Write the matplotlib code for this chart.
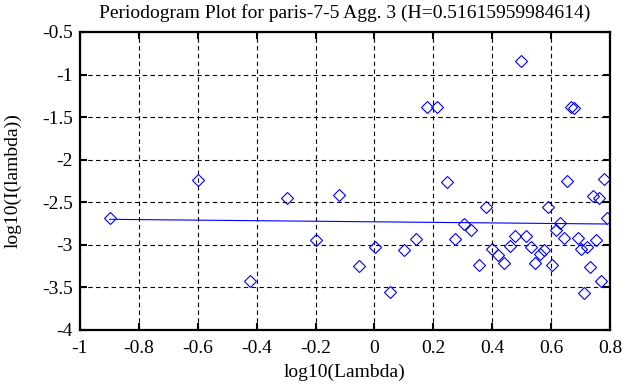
import matplotlib
matplotlib.use("Agg")
import matplotlib.pyplot as plt

plt.rcParams['font.family'] = ['Liberation Serif', 'DejaVu Serif']

title = "Periodogram Plot for paris-7-5 Agg. 3 (H=0.51615959984614)"
xlabel = "log10(Lambda)"
ylabel = "log10(I(lambda))"

log_lambda = [-0.899, -0.598, -0.422, -0.297, -0.200, -0.121, -0.054, 0.002,
              0.053, 0.099, 0.140, 0.178, 0.213, 0.245, 0.275, 0.303,
              0.329, 0.354, 0.378, 0.400, 0.421, 0.441, 0.461, 0.479,
              0.497, 0.514, 0.530, 0.546, 0.561, 0.576, 0.590, 0.604,
              0.617, 0.630, 0.643, 0.655, 0.667, 0.679, 0.690, 0.701,
              0.712, 0.722, 0.732, 0.742, 0.752, 0.762, 0.771, 0.780, 0.789]
log_I = [-2.69, -2.24, -3.42, -2.45, -2.94, -2.42, -3.25, -3.02,
         -3.55, -3.06, -2.93, -1.38, -1.38, -2.26, -2.93, -2.75,
         -2.82, -3.24, -2.555, -3.05, -3.12, -3.21, -3.015, -2.90,
         -0.84, -2.90, -3.02, -3.21, -3.11, -3.06, -2.555, -3.24,
         -2.82, -2.74, -2.92, -2.25, -1.38, -1.39, -2.925, -3.05,
         -3.56, -3.02, -3.26, -2.43, -2.94, -2.45, -3.42, -2.23, -2.68]

fit_x = [-0.899, 0.789]
fit_y = [-2.70, -2.755]

xticks = [-1, -0.8, -0.6, -0.4, -0.2, 0, 0.2, 0.4, 0.6, 0.8]
xticklabels = ["-1", "-0.8", "-0.6", "-0.4", "-0.2", "0", "0.2", "0.4", "0.6", "0.8"]
yticks = [-4, -3.5, -3, -2.5, -2, -1.5, -1, -0.5]
yticklabels = ["-4", "-3.5", "-3", "-2.5", "-2", "-1.5", "-1", "-0.5"]

fig = plt.figure(figsize=(6.42, 3.87), dpi=100)
ax = fig.add_axes([80/642, 1-330/387, 530/642, 298/387])

ax.plot(log_lambda, log_I, linestyle='none', marker='D', markersize=6.6,
        markerfacecolor='none', markeredgecolor='#0000ff', markeredgewidth=0.8)
ax.plot(fit_x, fit_y, color='#0000ff', linewidth=0.8)

ax.set_xlim(-1, 0.8)
ax.set_ylim(-4, -0.5)
ax.set_xticks(xticks)
ax.set_xticklabels(xticklabels)
ax.set_yticks(yticks)
ax.set_yticklabels(yticklabels)
ax.tick_params(direction='in', length=5, width=1.5, top=True, right=True,
               labelsize=14, colors='black')
ax.tick_params(axis='x', pad=7)
ax.tick_params(axis='y', pad=5)
for s in ax.spines.values():
    s.set_linewidth(1.6)
    s.set_color('black')
ax.grid(True, color='black', linestyle=(0, (4, 3)), linewidth=0.8)

ax.set_title(title, fontsize=14, pad=10)
ax.set_xlabel(xlabel, fontsize=14, labelpad=5)
ax.set_ylabel(ylabel, fontsize=14, labelpad=15)

fig.savefig("out.png", dpi=100)
